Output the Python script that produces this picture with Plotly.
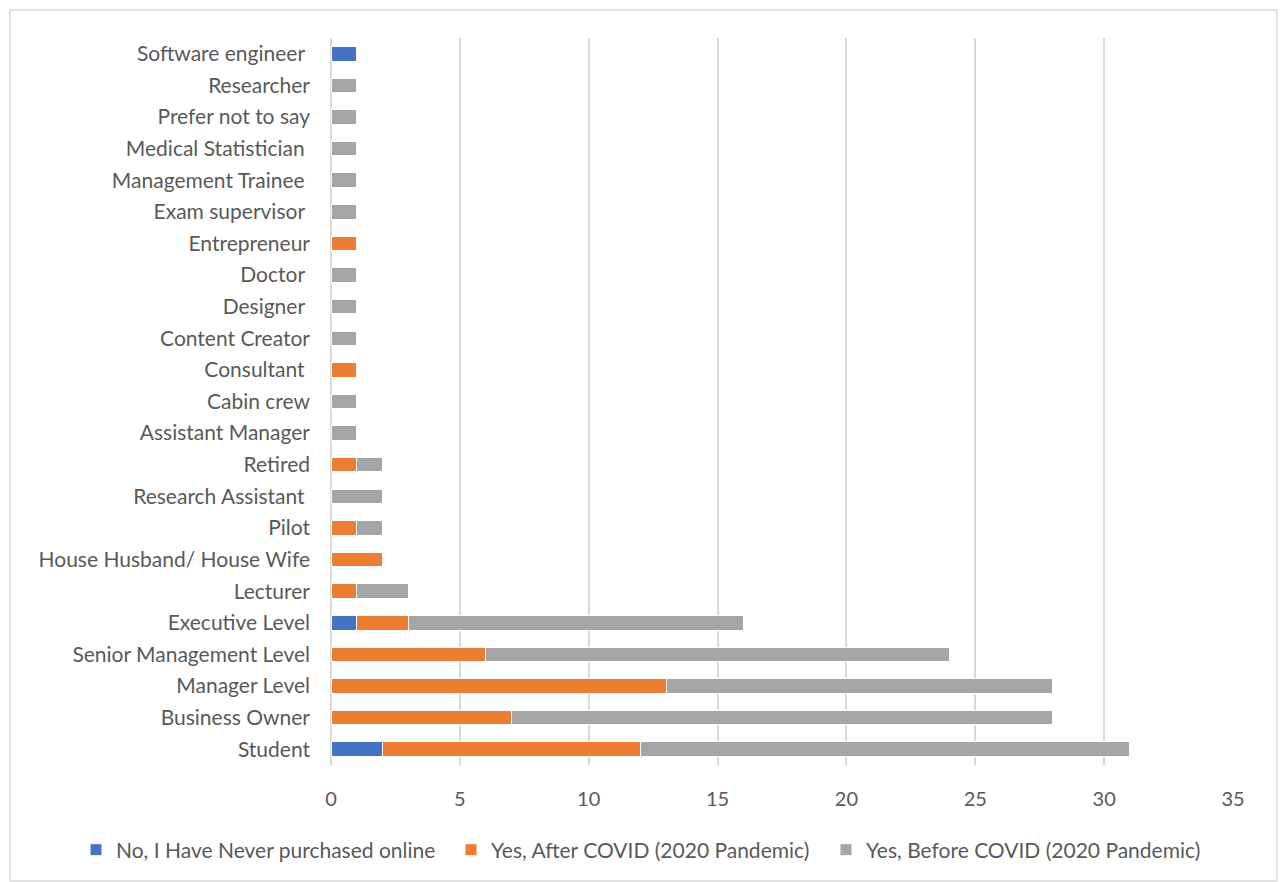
import plotly.graph_objects as go

categories = ["Student", "Business Owner", "Manager Level", "Senior Management Level",
              "Executive Level", "Lecturer", "House Husband/ House Wife", "Pilot",
              "Research Assistant ", "Retired", "Assistant Manager", "Cabin crew",
              "Consultant ", "Content Creator", "Designer ", "Doctor ", "Entrepreneur",
              "Exam supervisor ", "Management Trainee ", "Medical Statistician ",
              "Prefer not to say", "Researcher", "Software engineer "]
never = [2, 0, 0, 0, 1, 0, 0, 0, 0, 0, 0, 0, 0, 0, 0, 0, 0, 0, 0, 0, 0, 0, 1]
after = [10, 7, 13, 6, 2, 1, 2, 1, 0, 1, 0, 0, 1, 0, 0, 0, 1, 0, 0, 0, 0, 0, 0]
before = [19, 21, 15, 18, 13, 2, 0, 1, 2, 1, 1, 1, 0, 1, 1, 1, 0, 1, 1, 1, 1, 1, 0]
series_names = ["No, I Have Never purchased online",
                "Yes, After COVID (2020 Pandemic)",
                "Yes, Before COVID (2020 Pandemic)"]
colors = ["#4472C4", "#ED7D31", "#A5A5A5"]
x_ticks = [0, 5, 10, 15, 20, 25, 30, 35]

fig = go.Figure()
for name, vals, col in zip(series_names, [never, after, before], colors):
    fig.add_trace(go.Bar(
        y=categories, x=vals, name=name, orientation="h",
        marker=dict(color=col, line=dict(color="white", width=1)),
        width=0.46,
    ))

W, H = 1280, 882
ML, MR = 10, 10
pw = W - ML - MR
x_dom = [(331 - ML) / pw, (1233 - ML) / pw]

font = "Lato, 'Open Sans', sans-serif"
fig.update_layout(
    barmode="stack",
    width=W, height=H,
    margin=dict(l=ML, r=MR, t=38, b=117, autoexpand=False),
    paper_bgcolor="white", plot_bgcolor="white",
    font=dict(family=font, size=21, color="#595959"),
    showlegend=True,
    legend=dict(orientation="h", xref="paper", yref="paper",
                x=(76 - ML) / pw, xanchor="left", y=-0.117, yanchor="middle",
                font=dict(size=21, color="#595959"), traceorder="normal",
                itemwidth=30, tracegroupgap=0, entrywidth=330),
    xaxis=dict(domain=x_dom, range=[0, 35], tickvals=x_ticks, showgrid=True,
               gridcolor="#D9D9D9", gridwidth=1.5, zeroline=True,
               zerolinecolor="#D9D9D9", zerolinewidth=1.5, ticklabelstandoff=20,
               tickfont=dict(size=20, color="#595959"), fixedrange=True),
    yaxis=dict(categoryorder="array", categoryarray=categories, showgrid=False,
               ticklabelstandoff=20, tickfont=dict(size=21, color="#595959")),
    shapes=[dict(type="rect", xref="paper", yref="paper",
                 x0=0, x1=(1277 - ML) / pw, y0=-0.1596, y1=1.0385,
                 line=dict(color="#D9D9D9", width=1.5), layer="below")],
)

fig.write_html("out.html")
